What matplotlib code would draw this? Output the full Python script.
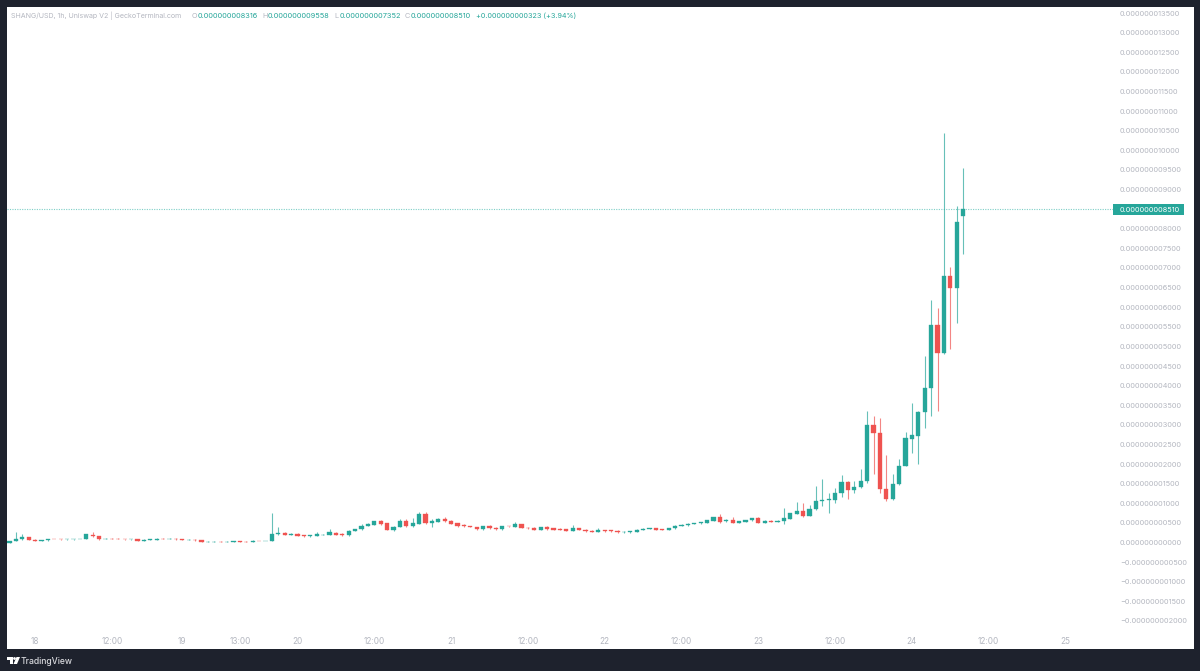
import numpy as np
from matplotlib import pyplot as plt
from matplotlib.patches import Rectangle, Polygon, Circle
from matplotlib.transforms import Affine2D

# hourly candles, price in units of 1e-9 USD
opens = [0.00, 0.04, 0.08, 0.13, 0.07, 0.05, 0.06, 0.09, 0.09, 0.08,
         0.08, 0.09, 0.09, 0.20, 0.16, 0.09, 0.10, 0.10, 0.09, 0.08,
         0.09, 0.05, 0.07, 0.075, 0.10, 0.09, 0.10, 0.08, 0.07, 0.07,
         0.06, 0.02, 0.025, 0.025, 0.02, 0.02, 0.03, 0.025, 0.02, 0.05,
         0.04, 0.05, 0.22, 0.25, 0.20, 0.226, 0.18, 0.165, 0.17, 0.20,
         0.20, 0.25, 0.21, 0.18, 0.30, 0.34, 0.43, 0.45, 0.54, 0.49,
         0.31, 0.40, 0.54, 0.41, 0.48, 0.725, 0.50, 0.53, 0.61, 0.56,
         0.49, 0.44, 0.42, 0.39, 0.34, 0.41, 0.38, 0.34, 0.42, 0.40,
         0.46, 0.38, 0.38, 0.32, 0.40, 0.36, 0.35, 0.34, 0.30, 0.37,
         0.33, 0.30, 0.27, 0.32, 0.31, 0.30, 0.26, 0.26, 0.28, 0.33,
         0.35, 0.36, 0.34, 0.32, 0.36, 0.43, 0.44, 0.47, 0.49, 0.50,
         0.56, 0.65, 0.54, 0.58, 0.50, 0.53, 0.57, 0.62, 0.50, 0.56,
         0.53, 0.55, 0.61, 0.735, 0.795, 0.68, 0.85, 1.06, 1.09, 1.08,
         1.25, 1.54, 1.35, 1.41, 1.57, 3.00, 2.80, 1.37, 1.10, 1.48,
         1.95, 2.65, 2.72, 3.33, 3.94, 5.55, 4.82, 6.79, 6.49, 8.316]
closes = [0.04, 0.08, 0.13, 0.07, 0.05, 0.06, 0.09, 0.085, 0.08, 0.08,
          0.09, 0.09, 0.21, 0.16, 0.08, 0.10, 0.09, 0.09, 0.08, 0.09,
          0.05, 0.07, 0.08, 0.10, 0.09, 0.10, 0.08, 0.07, 0.07, 0.06,
          0.02, 0.025, 0.025, 0.02, 0.02, 0.03, 0.025, 0.02, 0.05, 0.04,
          0.04, 0.226, 0.25, 0.20, 0.226, 0.175, 0.165, 0.18, 0.215, 0.20,
          0.26, 0.20, 0.18, 0.30, 0.345, 0.43, 0.47, 0.54, 0.47, 0.32,
          0.40, 0.54, 0.41, 0.495, 0.725, 0.49, 0.54, 0.61, 0.56, 0.47,
          0.41, 0.41, 0.40, 0.34, 0.41, 0.36, 0.34, 0.41, 0.41, 0.47,
          0.37, 0.36, 0.32, 0.39, 0.34, 0.33, 0.33, 0.30, 0.37, 0.32,
          0.29, 0.28, 0.32, 0.29, 0.29, 0.26, 0.28, 0.285, 0.33, 0.35,
          0.36, 0.33, 0.32, 0.37, 0.43, 0.45, 0.48, 0.49, 0.51, 0.57,
          0.65, 0.53, 0.58, 0.50, 0.54, 0.57, 0.62, 0.50, 0.56, 0.52,
          0.56, 0.62, 0.744, 0.795, 0.68, 0.85, 1.06, 1.09, 1.10, 1.26,
          1.54, 1.35, 1.41, 1.58, 3.00, 2.80, 1.37, 1.10, 1.48, 1.96,
          2.66, 2.73, 3.34, 3.94, 5.55, 4.82, 6.79, 6.50, 8.17, 8.51]
highs = [0.05, 0.27, 0.22, 0.14, 0.08, 0.07, 0.10, 0.10, 0.09, 0.09,
         0.10, 0.10, 0.22, 0.27, 0.17, 0.11, 0.11, 0.11, 0.10, 0.10,
         0.10, 0.08, 0.09, 0.11, 0.11, 0.11, 0.11, 0.09, 0.08, 0.08,
         0.07, 0.03, 0.03, 0.03, 0.03, 0.04, 0.03, 0.03, 0.06, 0.05,
         0.05, 0.74, 0.40, 0.26, 0.23, 0.23, 0.19, 0.19, 0.28, 0.21,
         0.35, 0.26, 0.25, 0.31, 0.35, 0.46, 0.49, 0.55, 0.58, 0.50,
         0.41, 0.61, 0.61, 0.62, 0.77, 0.77, 0.61, 0.62, 0.65, 0.57,
         0.50, 0.47, 0.43, 0.40, 0.42, 0.45, 0.39, 0.42, 0.43, 0.52,
         0.47, 0.39, 0.39, 0.40, 0.43, 0.37, 0.36, 0.35, 0.44, 0.38,
         0.34, 0.31, 0.37, 0.33, 0.32, 0.31, 0.29, 0.29, 0.34, 0.36,
         0.37, 0.37, 0.35, 0.38, 0.44, 0.47, 0.49, 0.50, 0.52, 0.58,
         0.66, 0.73, 0.60, 0.65, 0.55, 0.58, 0.63, 0.64, 0.57, 0.57,
         0.57, 0.87, 0.76, 1.02, 1.00, 0.95, 1.45, 1.61, 1.26, 1.38,
         1.71, 1.56, 1.57, 1.87, 3.35, 3.23, 3.18, 2.24, 1.75, 2.14,
         2.81, 3.55, 3.36, 4.75, 6.18, 5.97, 10.44, 7.02, 8.59, 9.558]
lows = [-0.01, 0.03, 0.07, 0.06, 0.04, 0.04, 0.05, 0.08, 0.07, 0.07,
        0.07, 0.08, 0.08, 0.15, 0.07, 0.08, 0.08, 0.08, 0.07, 0.07,
        0.04, 0.04, 0.06, 0.07, 0.08, 0.08, 0.07, 0.06, 0.06, 0.05,
        0.01, 0.01, 0.02, 0.01, 0.01, 0.02, 0.02, 0.01, 0.01, 0.03,
        0.03, 0.04, 0.20, 0.19, 0.19, 0.16, 0.15, 0.15, 0.16, 0.19,
        0.19, 0.19, 0.17, 0.17, 0.29, 0.33, 0.42, 0.44, 0.44, 0.31,
        0.30, 0.39, 0.39, 0.40, 0.47, 0.47, 0.40, 0.52, 0.53, 0.46,
        0.40, 0.40, 0.39, 0.33, 0.33, 0.34, 0.33, 0.33, 0.40, 0.39,
        0.36, 0.35, 0.31, 0.31, 0.33, 0.32, 0.32, 0.29, 0.29, 0.31,
        0.28, 0.27, 0.26, 0.28, 0.28, 0.25, 0.25, 0.25, 0.27, 0.32,
        0.34, 0.32, 0.31, 0.31, 0.35, 0.42, 0.43, 0.46, 0.48, 0.49,
        0.55, 0.49, 0.53, 0.49, 0.49, 0.52, 0.56, 0.49, 0.49, 0.51,
        0.52, 0.47, 0.60, 0.73, 0.66, 0.67, 0.84, 0.94, 0.74, 1.00,
        1.17, 1.12, 1.25, 1.40, 1.51, 1.74, 1.25, 1.06, 1.09, 1.47,
        1.94, 2.27, 2.00, 2.91, 3.23, 3.36, 4.80, 4.94, 5.60, 7.352]

tick_idx = [4, 16, 27, 36, 45, 57, 69, 81, 93, 105, 117, 129, 141, 153, 165]
tick_names = ['18', '12:00', '19', '13:00', '20', '12:00', '21', '12:00',
              '22', '12:00', '23', '12:00', '24', '12:00', '25']
price_ticks = [-2.0, -1.5, -1.0, -0.5, 0.0, 0.5, 1.0, 1.5, 2.0, 2.5, 3.0, 3.5,
               4.0, 4.5, 5.0, 5.5, 6.0, 6.5, 7.0, 7.5, 8.0, 9.0, 9.5, 10.0,
               10.5, 11.0, 11.5, 12.0, 12.5, 13.0, 13.5]
last_price = 8.51

GREEN = '#26a69a'
RED = '#ef5350'
DARK = '#1e222d'
GREY = '#b4b7c0'

W, H = 1200, 671
plt.rcParams['font.family'] = ['Inter', 'DejaVu Sans']
fig = plt.figure(figsize=(W / 100, H / 100), dpi=100, facecolor=DARK)
# pixel coordinates from the top left corner
px = Affine2D().scale(1, -1).translate(0, H)

fig.add_artist(Rectangle((7, 7), 1187, 642, transform=px, fc='white', ec='none', zorder=-1))

ax = fig.add_axes([7 / W, (H - 649) / H, 1106 / W, 642 / H], facecolor='none')
for s in ax.spines.values():
    s.set_visible(False)

opens = np.array(opens)
closes = np.array(closes)
xs = np.arange(len(opens))
up = closes >= opens
cols = np.where(up, GREEN, RED)

ax.vlines(xs, lows, highs, colors=cols, lw=0.8, alpha=0.7, zorder=2)
ax.bar(xs, closes - opens, bottom=opens, width=0.68, color=cols,
       edgecolor=cols, lw=0.25, zorder=3)
ax.axhline(last_price, color='#7fcfc7', lw=0.8, ls=(0, (1, 1.2)), zorder=1)

# same mapping as the price scale of the reference: 39.22 px per 1e-9, zero at y=542.5
ax.set_xlim((7 - 9.5) / 6.4, (1113 - 9.5) / 6.4)
ax.set_ylim((542.5 - 649) / 39.22, (542.5 - 7) / 39.22)

ax.set_xticks(tick_idx)
ax.set_xticklabels(tick_names)
ax.tick_params(axis='x', length=0, pad=-8.3, labelsize=5.9, labelcolor=GREY)
ax.yaxis.tick_right()
ax.set_yticks(price_ticks)
ax.set_yticklabels([('%.12f' % (p * 1e-9)).replace('-', '\u2212') for p in price_ticks])
ax.tick_params(axis='y', length=0, pad=5, labelsize=5.3, labelcolor=GREY)

# last price tag
fig.add_artist(Rectangle((1113, 204), 71, 11, transform=px, fc=GREEN, ec='none'))
fig.text(1120, 209.7, '0.000000008510', transform=px, color='white', fontsize=5.3,
         va='center', ha='left')

# legend line
HDR = 16
fig.text(11, HDR, 'SHANG/USD, 1h, Uniswap V2 | GeckoTerminal.com', transform=px,
         color=GREY, fontsize=5.1, va='center')
for x, name, val in [(192, 'O', '0.000000008316'), (262, 'H', '0.000000009558'),
                     (334, 'L', '0.000000007352'), (405, 'C', '0.000000008510')]:
    fig.text(x, HDR, name, transform=px, color=GREY, fontsize=5.3, va='center')
    fig.text(x + 5.5, HDR, val, transform=px, color=GREEN, fontsize=5.3, va='center')
fig.text(476, HDR, '+0.000000000323 (+3.94%)', transform=px, color=GREEN, fontsize=5.2,
         va='center')

# TradingView logo and name
fig.add_artist(Polygon([(7, 657), (13, 657), (13, 664), (10, 664), (10, 660), (7, 660)],
                       transform=px, fc='white', ec='none'))
fig.add_artist(Circle((14.5, 658.5), 1.4, transform=px, fc='white', ec='none'))
fig.add_artist(Polygon([(16.5, 657), (20, 657), (17, 664), (13.5, 664)],
                       transform=px, fc='white', ec='none'))
fig.text(21, 661, 'TradingView', transform=px, color='#d8d9dd', fontsize=6.2,
         va='center', fontweight='medium')

fig.savefig('out.png', dpi=100, facecolor=DARK)
